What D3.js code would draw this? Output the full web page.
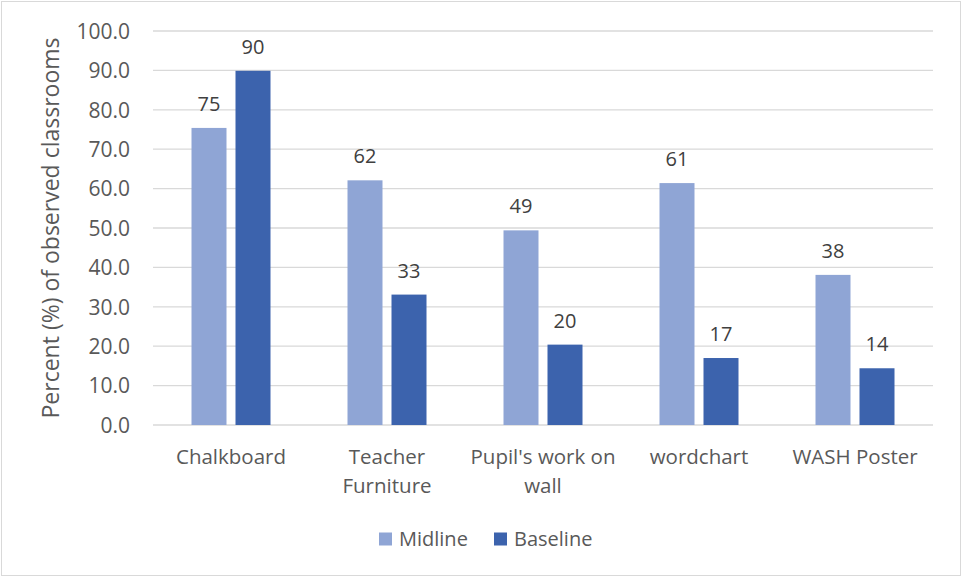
<!DOCTYPE html>
<html>
<head>
<meta charset="utf-8">
<script src="https://cdn.jsdelivr.net/npm/d3@7"></script>
<style>
  html, body { margin: 0; padding: 0; background: #fff; }
  svg { display: block; font-family: "Open Sans", Lato, sans-serif; }
</style>
</head>
<body>
<svg id="chart" width="962" height="577"></svg>
<script>
const categories = [["Chalkboard"], ["Teacher", "Furniture"], ["Pupil's work on", "wall"], ["wordchart"], ["WASH Poster"]];
const seriesNames = ["Midline", "Baseline"];
const midline = [75.4, 62.1, 49.4, 61.4, 38.1];
const baseline = [89.9, 33.1, 20.4, 17.0, 14.4];
const yTicks = [0, 10, 20, 30, 40, 50, 60, 70, 80, 90, 100];
const colors = ["#8FA5D5", "#3C63AD"];

const svg = d3.select("#chart");
const W = 962, H = 577;
const plot = { left: 153, right: 933, top: 31, bottom: 425 };
const FONT = "\"Open Sans\", Lato, sans-serif";

svg.append("rect").attr("x", 1.5).attr("y", 1.5).attr("width", W - 3).attr("height", H - 3)
  .attr("fill", "#fff").attr("stroke", "#d9d9d9").attr("stroke-width", 1);

const x0 = d3.scaleBand().domain(d3.range(categories.length)).range([plot.left, plot.right]).paddingInner(0).paddingOuter(0);
const y = d3.scaleLinear().domain([0, 100]).range([plot.bottom, plot.top]);

// gridlines
svg.append("g").selectAll("line").data(yTicks).join("line")
  .attr("x1", plot.left).attr("x2", plot.right)
  .attr("y1", d => y(d)).attr("y2", d => y(d))
  .attr("stroke", "#d9d9d9").attr("stroke-width", 1.3);

// y tick labels
const yAxis = d3.axisLeft(y).tickValues(yTicks).tickFormat(d3.format(".1f")).tickSize(0).tickPadding(0);
const gy = svg.append("g").attr("transform", `translate(130,0)`).call(yAxis);
gy.select(".domain").remove();
gy.selectAll("text").attr("fill", "#595959").style("font-size", "21px").style("font-family", FONT).attr("dy", "0.35em");

// bars
const barW = 35, gap = 9;
const data = seriesNames.map((s, si) => ({ name: s, values: si === 0 ? midline : baseline, color: colors[si], si }));
const barX = (i, si) => x0(i) + x0.bandwidth() / 2 + (si === 0 ? -(gap / 2 + barW) : gap / 2);

data.forEach(s => {
  const g = svg.append("g");
  g.selectAll("rect").data(s.values).join("rect")
    .attr("x", (d, i) => barX(i, s.si))
    .attr("width", barW)
    .attr("y", d => y(d))
    .attr("height", d => y(0) - y(d))
    .attr("fill", s.color);
  g.selectAll("text").data(s.values).join("text")
    .attr("x", (d, i) => barX(i, s.si) + barW / 2)
    .attr("y", d => y(d) - 17)
    .attr("text-anchor", "middle")
    .attr("fill", "#404040")
    .style("font-size", "20px")
    .text(d => d3.format(".0f")(d));
});

// category labels
const cg = svg.append("g");
categories.forEach((lines, i) => {
  const t = cg.append("text").attr("text-anchor", "middle").attr("fill", "#595959").style("font-size", "20.5px");
  lines.forEach((ln, li) => {
    t.append("tspan").attr("x", x0(i) + x0.bandwidth() / 2).attr("y", 464 + li * 29).text(ln);
  });
});

// y axis title
svg.append("text")
  .attr("transform", `translate(59,${(plot.top + plot.bottom) / 2}) rotate(-90)`)
  .attr("text-anchor", "middle")
  .attr("fill", "#595959")
  .style("font-size", "23px")
  .text("Percent (%) of observed classrooms");

// legend
const legX = [379, 494];
const lg = svg.append("g");
data.forEach((s, i) => {
  lg.append("rect").attr("x", legX[i]).attr("y", 532.5).attr("width", 13).attr("height", 13).attr("fill", s.color);
  lg.append("text").attr("x", legX[i] + 20).attr("y", 546).attr("fill", "#595959").style("font-size", "20px").text(s.name);
});
</script>
</body>
</html>
